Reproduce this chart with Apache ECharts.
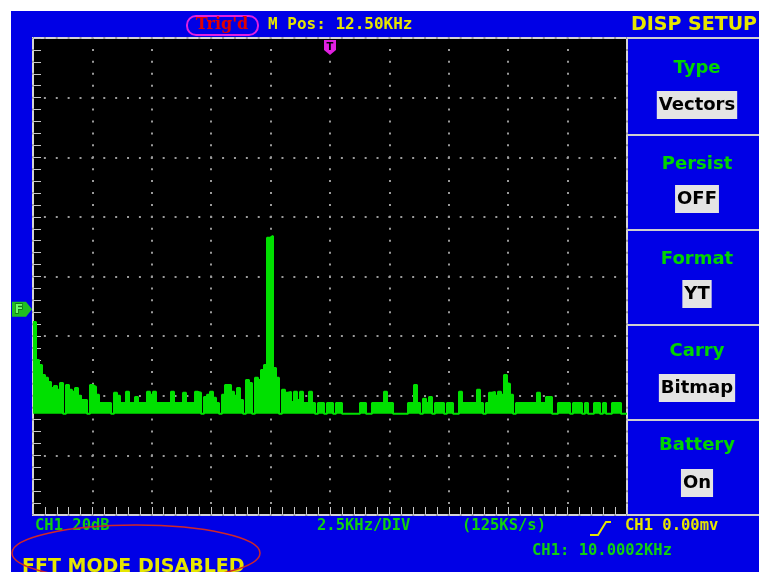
<!DOCTYPE html>
<html>
<head>
<meta charset="utf-8">
<script src="https://cdn.jsdelivr.net/npm/echarts@6/dist/echarts.min.js"></script>
<style>
html,body{margin:0;padding:0;background:#ffffff;}
#wrap{position:relative;width:759px;height:572px;overflow:hidden;}
#bg{position:absolute;left:11px;top:11px;width:748px;height:561px;background:#0000e6;}
#chart{position:absolute;left:0;top:0;width:759px;height:572px;}
</style>
</head>
<body>
<div id="wrap"><div id="bg"></div><div id="chart"></div></div>
<script>
// ---- data ----
const spanKHz = 25;          // 10 div x 2.5 kHz
const kHzPerDiv = 2.5;
const dbPerDiv = 20;
const screenDb = 160;        // 8 div x 20 dB
const fftFloor = 34;         // baseline level of the trace
const refLevel = 69;         // "F" reference marker level
const triggerPosKHz = 12.5;  // "T" marker

// FFT magnitude, evenly spaced bins across 0..25 kHz (screen units, 20 per division)
const fftLevels = [
  64.7, 52, 50.3, 47, 46, 44.6, 42.6, 43.3, 42, 44.3,
  34, 43.6, 42, 41.3, 42.6, 40, 38.6, 38.6, 34, 43.6,
  43, 40.3, 37.6, 37.6, 37.6, 37.6, 34, 41, 40, 37.6,
  37.6, 41.3, 37.6, 37.6, 39.6, 37.6, 37.6, 37.6, 41.3, 40.3,
  41.3, 37.6, 37.6, 37.6, 37.6, 37.6, 41.3, 37.6, 37.6, 37.6,
  41, 37.6, 37.6, 37.6, 41.3, 41, 34, 39.6, 40.3, 41.3,
  39.3, 37.6, 34, 40.3, 43.6, 43.6, 41.3, 40, 42.6, 38.6,
  34, 45.3, 44.3, 34, 46, 45.3, 48.6, 50.3, 93, 93.6,
  49.3, 46, 34, 42, 41, 41.3, 37.9, 41.3, 38.6, 41.3,
  37.6, 37.6, 41.3, 37.6, 34, 37.6, 37.6, 34, 37.6, 37.6,
  34, 37.6, 37.6, 34, 34, 34, 34, 34, 34, 37.6,
  37.6, 34, 34, 37.6, 37.6, 37.6, 37.6, 41.3, 37.6, 37.6,
  34, 34, 34, 34, 34, 37.6, 37.6, 43.6, 37.6, 34,
  39, 37.6, 39.6, 34, 37.6, 37.6, 37.6, 34, 37.6, 37.6,
  34, 34, 41.3, 37.6, 37.6, 37.6, 37.6, 37.6, 42, 37.6,
  34, 37.6, 41, 41.3, 40, 41.3, 40.3, 47, 44, 40.3,
  34, 37.6, 37.6, 37.6, 37.6, 37.6, 37.6, 37.6, 41, 37.6,
  37.6, 39.6, 39.6, 34, 34, 37.6, 37.6, 37.6, 37.6, 34,
  37.6, 37.6, 37.6, 34, 37.6, 34, 34, 37.6, 37.6, 34,
  37.6, 34, 34, 37.6, 37.6, 37.6, 34, 34, 34
];

// ---- texts ----
const panelTitle = 'DISP SETUP';
const panelTitles = ['Type', 'Persist', 'Format', 'Carry', 'Battery'];
const panelValues = ['Vectors', 'OFF', 'YT', 'Bitmap', 'On'];
const trigText = "Trig'd";
const mPosText = 'M Pos: 12.50KHz';
const ch1ScaleText = 'CH1 20dB';
const timebaseText = '2.5KHz/DIV';
const sampleRateText = '(125KS/s)';
const trigLevelText = 'CH1 0.00mv';
const freqText = 'CH1: 10.0002KHz';
const noteText = 'FFT MODE DISABLED';

// ---- build ----
const binKHz = spanKHz / (fftLevels.length - 1);
const seriesData = fftLevels.map((v, i) => [i * binKHz, v]);

const GREEN = '#00e000';
const LABEL_GREEN = '#00d400';
const YELLOW = '#e6e600';
const MONO = '"DejaVu Sans Mono", monospace';
const SANS = '"DejaVu Sans", sans-serif';

const tickStyle = { color: '#c8c8c8', width: 1 };
const dotted = (gap) => ({ color: '#9a9a9a', width: 2, type: [2, gap], dashOffset: 1 });

// ticks point into the screen: axis is shifted 4px inward, ticks point back to the border
function axisCommon(extra) {
  return Object.assign({
    offset: -4,
    axisLine: { show: false },
    axisLabel: { show: false },
    axisTick: { show: true, inside: false, length: 4, lineStyle: tickStyle },
    minorTick: { show: true, splitNumber: 5, length: 4, lineStyle: tickStyle },
    splitLine: { show: false }
  }, extra);
}

const chart = echarts.init(document.getElementById('chart'), null, { renderer: 'canvas' });

chart.setOption({
  backgroundColor: 'transparent',
  animation: false,
  grid: {
    left: 33, top: 38, width: 594, height: 477,
    show: true, backgroundColor: '#000000',
    borderColor: '#d4d4d4', borderWidth: 2
  },
  xAxis: [
    axisCommon({ type: 'value', min: 0, max: spanKHz, interval: kHzPerDiv, position: 'bottom',
      splitLine: { show: true, lineStyle: dotted(9.925) } }),
    axisCommon({ type: 'value', min: 0, max: spanKHz, interval: kHzPerDiv, position: 'top' })
  ],
  yAxis: [
    axisCommon({ type: 'value', min: 0, max: screenDb, interval: dbPerDiv, position: 'left',
      splitLine: { show: true, lineStyle: dotted(9.88) } }),
    axisCommon({ type: 'value', min: 0, max: screenDb, interval: dbPerDiv, position: 'right' })
  ],
  series: [{
    type: 'line',
    xAxisIndex: 0, yAxisIndex: 0,
    data: seriesData,
    step: 'end',
    symbol: 'none',
    lineStyle: { color: GREEN, width: 2 },
    areaStyle: { color: GREEN, opacity: 1, origin: fftFloor },
    z: 5
  }]
});

const tPos = chart.convertToPixel({ xAxisIndex: 0, yAxisIndex: 0 }, [triggerPosKHz, screenDb]);
const fPos = chart.convertToPixel({ xAxisIndex: 0, yAxisIndex: 0 }, [0, refLevel]);

function txt(text, x, y, color, size, family, weight, align, extra) {
  return {
    type: 'text', z: 50,
    style: Object.assign({
      text: text, x: x, y: y, fill: color,
      fontSize: size, fontFamily: family, fontWeight: weight || 'bold',
      align: align || 'left', textAlign: align || 'left',
      verticalAlign: 'middle', textVerticalAlign: 'middle'
    }, extra || {})
  };
}

const g = [];
// right panel separators
[38, 135, 230, 325, 420, 515].forEach(function (y) {
  g.push({ type: 'line', z: 40, shape: { x1: 627, y1: y, x2: 759, y2: y },
    style: { stroke: '#cfcfcf', lineWidth: 2 } });
});
// panel title
g.push(txt(panelTitle, 694, 25, YELLOW, 19, SANS, 'bold', 'center'));
// panel items
const titleY = [68, 164, 259, 351, 445];
const valueY = [105, 199, 294, 388, 483];
panelTitles.forEach(function (t, i) {
  g.push(txt(t, 697, titleY[i], LABEL_GREEN, 18, SANS, 'bold', 'center'));
  g.push(txt(panelValues[i], 697, valueY[i], '#000000', 18, SANS, 'bold', 'center',
    { backgroundColor: '#e4e4e4', padding: [5, 2, 5, 2] }));
});
// top status
g.push({ type: 'rect', z: 45, shape: { x: 187, y: 16, width: 71, height: 19, r: 9 },
  style: { fill: 'none', stroke: '#e020e0', lineWidth: 2 } });
g.push(txt(trigText, 222, 25, '#e00000', 16, '"DejaVu Serif", serif', 'bold', 'center'));
g.push(txt(mPosText, 268, 25, YELLOW, 16, MONO, 'bold', 'left'));
// trigger marker
g.push({ type: 'polygon', z: 45,
  shape: { points: [[tPos[0] - 6, tPos[1] + 2], [tPos[0] + 6, tPos[1] + 2], [tPos[0] + 6, tPos[1] + 12],
    [tPos[0], tPos[1] + 17], [tPos[0] - 6, tPos[1] + 12]] },
  style: { fill: '#e020e0' } });
g.push(txt('T', tPos[0], tPos[1] + 9, '#000000', 10, SANS, 'bold', 'center'));
// reference marker
g.push({ type: 'polygon', z: 45,
  shape: { points: [[fPos[0] - 21, fPos[1] - 7.5], [fPos[0] - 7, fPos[1] - 7.5], [fPos[0] - 1, fPos[1]],
    [fPos[0] - 7, fPos[1] + 7.5], [fPos[0] - 21, fPos[1] + 7.5]] },
  style: { fill: '#20c020' } });
g.push(txt('F', fPos[0] - 14, fPos[1] + 0.5, '#70ff70', 13, SANS, 'bold', 'center',
  { stroke: '#004000', lineWidth: 1 }));
// bottom status
g.push(txt(ch1ScaleText, 35, 526, '#10d010', 15.5, MONO, 'bold', 'left'));
g.push(txt(timebaseText, 317, 526, '#10d010', 15.5, MONO, 'bold', 'left'));
g.push(txt(sampleRateText, 462, 526, '#10d010', 15.5, MONO, 'bold', 'left'));
g.push({ type: 'polyline', z: 45, shape: { points: [[590, 535], [598, 535], [606, 522], [611, 522]] },
  style: { stroke: YELLOW, lineWidth: 2, fill: null } });
g.push(txt(trigLevelText, 625, 526, YELLOW, 15.5, MONO, 'bold', 'left'));
g.push(txt(freqText, 532, 551, '#10d010', 15.5, MONO, 'bold', 'left'));
g.push(txt(noteText, 22, 567, YELLOW, 19, SANS, 'bold', 'left'));
// hand-drawn red ellipse
g.push({ type: 'ellipse', z: 60, shape: { cx: 136, cy: 553, rx: 124, ry: 28 },
  style: { fill: 'none', stroke: '#d02828', lineWidth: 1.5 } });

chart.setOption({ graphic: g });
</script>
</body>
</html>
